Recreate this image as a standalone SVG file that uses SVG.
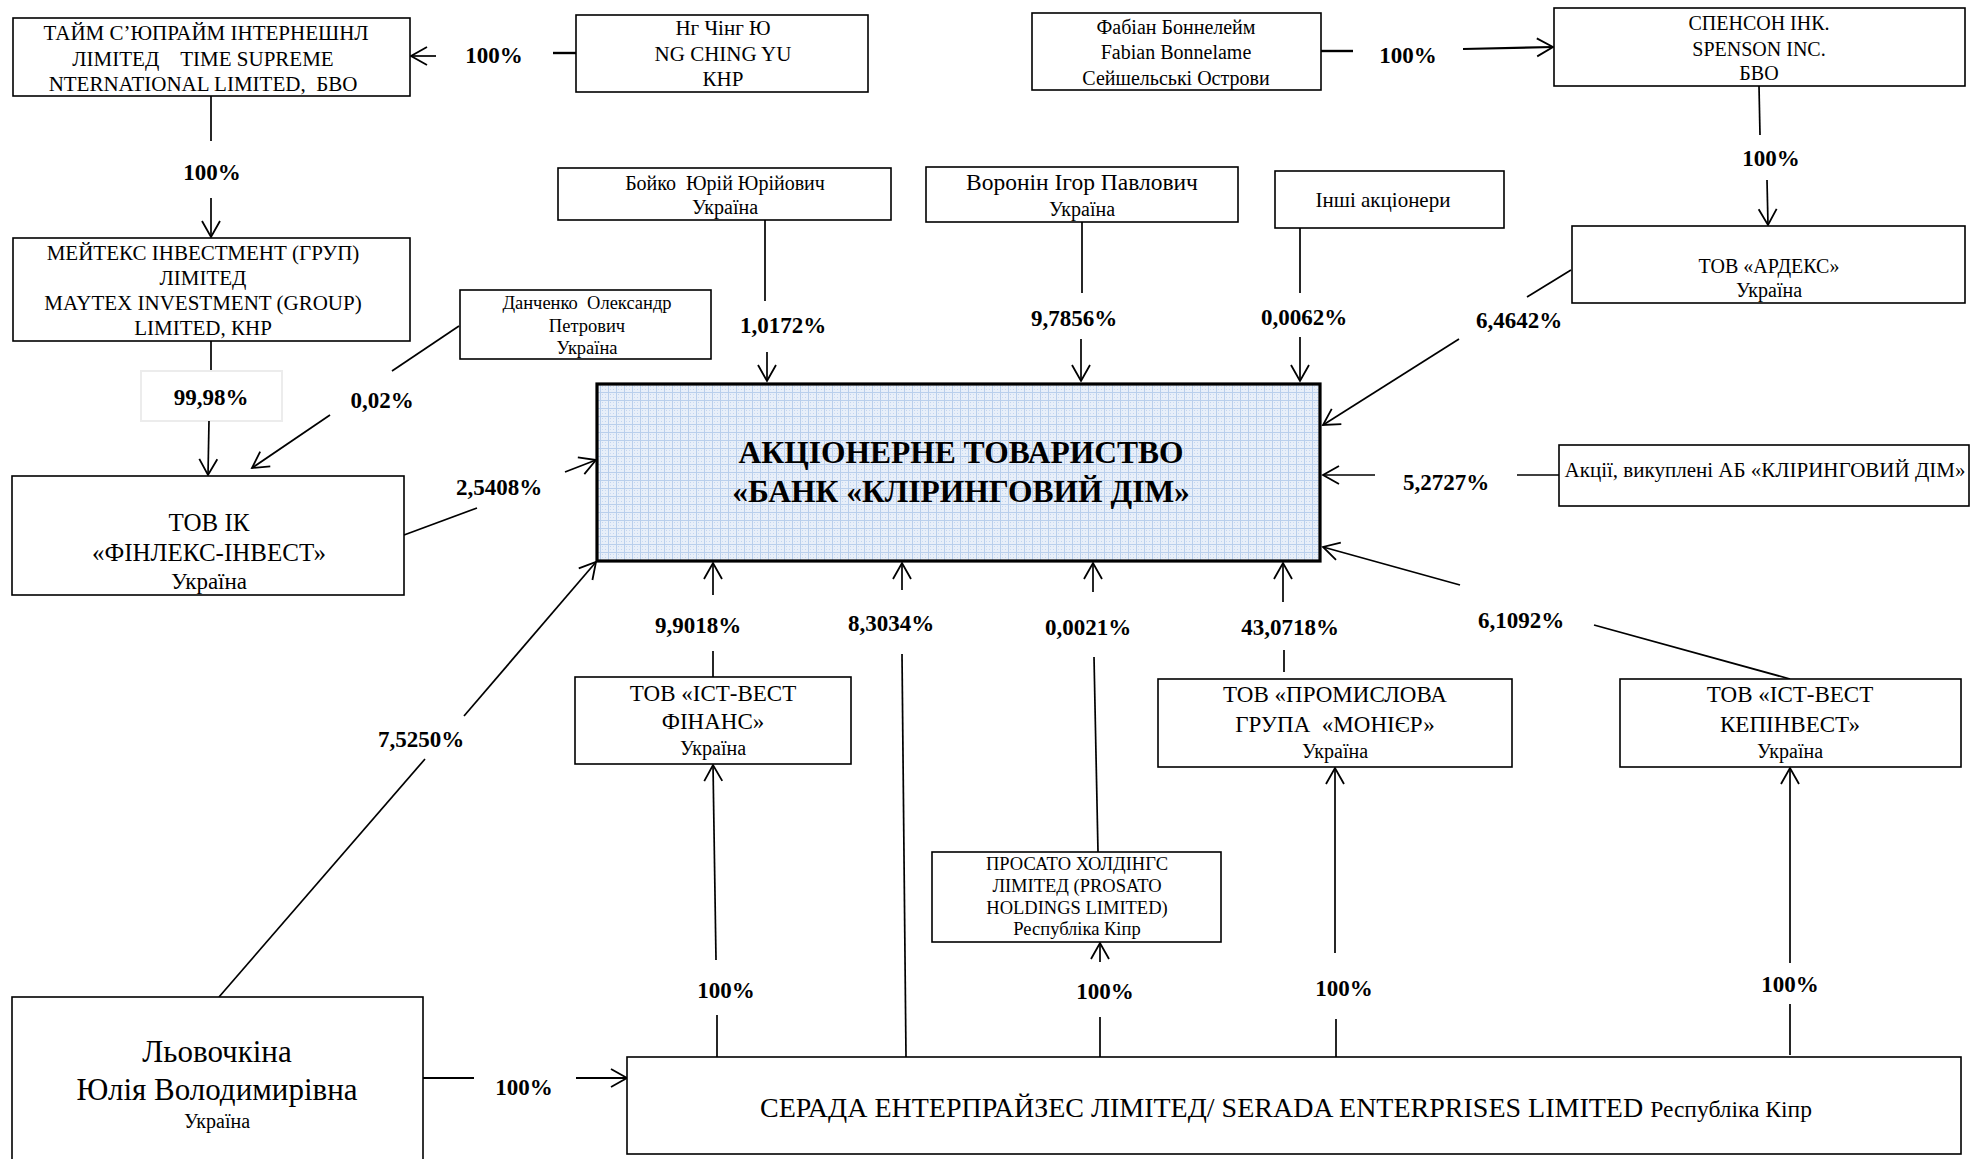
<svg xmlns="http://www.w3.org/2000/svg" width="1980" height="1159" viewBox="0 0 1980 1159">
<style>
.box{fill:#fff;stroke:#000;stroke-width:1.6}
.bank{fill:url(#grid);stroke:#000;stroke-width:3.2}
.t{font-family:"Liberation Serif","Times New Roman",serif;font-size:21px;text-anchor:middle;fill:#000}
.s18{font-size:18.5px}
.s20{font-size:20px}
.s23{font-size:23px}
.s25{font-size:25px}
.s31{font-size:31px}
.b{font-weight:bold}
.p{font-family:"Liberation Serif","Times New Roman",serif;font-size:23px;font-weight:bold;text-anchor:middle;fill:#000}
.c{stroke:#000;stroke-width:1.7;fill:none}
.a{marker-end:url(#arr)}
</style>
<defs>
<marker id="arr" markerUnits="userSpaceOnUse" markerWidth="24" markerHeight="24" refX="18" refY="10" orient="auto" viewBox="0 0 24 20">
<path d="M2,1 L18,10 L2,19" fill="none" stroke="#000" stroke-width="1.8"/>
</marker>
<pattern id="grid" width="8" height="8" patternUnits="userSpaceOnUse">
<rect width="8" height="8" fill="#e8eff9"/>
<path d="M0,0.5H8M0.5,0V8" stroke="#b9cfec" stroke-width="1"/>
<rect x="2" y="2" width="1" height="1" fill="#c3d5ef"/>
<rect x="5" y="5" width="1" height="1" fill="#c3d5ef"/>
<rect x="2" y="5" width="1" height="1" fill="#cddcf2"/>
<rect x="5" y="2" width="1" height="1" fill="#cddcf2"/>
</pattern>
</defs>
<rect width="1980" height="1159" fill="#fff"/>

<g id="connectors">
<line class="c" x1="576" y1="53" x2="553" y2="53" style="stroke-width:2.4"/>
<text class="p" x="494" y="63">100%</text>
<line class="c a" x1="436" y1="56" x2="411" y2="56"/>
<line class="c" x1="211" y1="96" x2="211" y2="141"/>
<text class="p" x="212" y="180">100%</text>
<line class="c a" x1="211" y1="198" x2="211" y2="237"/>
<line class="c" x1="1321" y1="51" x2="1353" y2="51" style="stroke-width:2.4"/>
<text class="p" x="1408" y="63">100%</text>
<line class="c a" x1="1463" y1="49" x2="1553" y2="47" style="stroke-width:2.2"/>
<line class="c" x1="1759" y1="86" x2="1760" y2="135"/>
<text class="p" x="1771" y="166">100%</text>
<line class="c a" x1="1767" y1="180" x2="1768" y2="225"/>
<line class="c" x1="765" y1="220" x2="765" y2="301"/>
<text class="p" x="783" y="333">1,0172%</text>
<line class="c a" x1="767" y1="352" x2="767" y2="381"/>
<line class="c" x1="1082" y1="222" x2="1082" y2="293"/>
<text class="p" x="1074" y="326">9,7856%</text>
<line class="c a" x1="1081" y1="339" x2="1081" y2="381"/>
<line class="c" x1="1300" y1="228" x2="1300" y2="293"/>
<text class="p" x="1304" y="325">0,0062%</text>
<line class="c a" x1="1300" y1="337" x2="1300" y2="381"/>
<line class="c" x1="1571" y1="270" x2="1527" y2="297"/>
<text class="p" x="1519" y="328">6,4642%</text>
<line class="c a" x1="1459" y1="339" x2="1323" y2="425"/>
<line class="c" x1="1559" y1="475" x2="1517" y2="475"/>
<text class="p" x="1446" y="490">5,2727%</text>
<line class="c a" x1="1375" y1="475" x2="1323" y2="475"/>
<line class="c" x1="1790" y1="679" x2="1594" y2="625"/>
<text class="p" x="1521" y="628">6,1092%</text>
<line class="c a" x1="1460" y1="585" x2="1323" y2="547"/>
<line class="c" x1="1284" y1="672" x2="1284" y2="650"/>
<text class="p" x="1290" y="635">43,0718%</text>
<line class="c a" x1="1283" y1="602" x2="1283" y2="563"/>
<line class="c" x1="1098" y1="852" x2="1094" y2="657"/>
<text class="p" x="1088" y="635">0,0021%</text>
<line class="c a" x1="1093" y1="592" x2="1093" y2="563"/>
<line class="c" x1="906" y1="1057" x2="902" y2="654"/>
<text class="p" x="891" y="631">8,3034%</text>
<line class="c a" x1="902" y1="590" x2="902" y2="563"/>
<line class="c" x1="713" y1="677" x2="713" y2="651"/>
<text class="p" x="698" y="633">9,9018%</text>
<line class="c a" x1="713" y1="595" x2="713" y2="563"/>
<line class="c" x1="219" y1="997" x2="425" y2="759"/>
<text class="p" x="421" y="747">7,5250%</text>
<line class="c a" x1="464" y1="716" x2="596" y2="562"/>
<line class="c" x1="423" y1="1078" x2="474" y2="1078" style="stroke-width:2.2"/>
<text class="p" x="524" y="1095">100%</text>
<line class="c a" x1="576" y1="1078" x2="627" y2="1078" style="stroke-width:2.2"/>
<line class="c" x1="717" y1="1057" x2="717" y2="1015"/>
<text class="p" x="726" y="998">100%</text>
<line class="c a" x1="716" y1="960" x2="713" y2="765"/>
<line class="c" x1="1100" y1="1057" x2="1100" y2="1017"/>
<text class="p" x="1105" y="999">100%</text>
<line class="c a" x1="1100" y1="962" x2="1100" y2="943"/>
<line class="c" x1="1336" y1="1057" x2="1336" y2="1019"/>
<text class="p" x="1344" y="996">100%</text>
<line class="c a" x1="1335" y1="953" x2="1335" y2="768"/>
<line class="c" x1="1790" y1="1055" x2="1790" y2="1004"/>
<text class="p" x="1790" y="992">100%</text>
<line class="c a" x1="1790" y1="963" x2="1790" y2="768"/>
<line class="c" x1="211" y1="341" x2="211" y2="371"/>
<rect x="141" y="371" width="141" height="50" fill="#fff" stroke="#ececec" stroke-width="2"/>
<text class="p" x="211" y="405">99,98%</text>
<line class="c a" x1="209" y1="421" x2="208" y2="475"/>
<line class="c" x1="459" y1="326" x2="392" y2="371"/>
<text class="p" x="382" y="408">0,02%</text>
<line class="c a" x1="330" y1="415" x2="252" y2="468"/>
<line class="c" x1="404" y1="535" x2="477" y2="508"/>
<text class="p" x="499" y="495">2,5408%</text>
<line class="c a" x1="565" y1="472" x2="596" y2="460"/>
</g>

<g id="time-supreme">
<rect class="box" x="13" y="18" width="397" height="78"/>
<text class="t" x="206" y="40" xml:space="preserve">ТАЙМ С’ЮПРАЙМ ІНТЕРНЕШНЛ</text>
<text class="t" x="203" y="66" xml:space="preserve">ЛІМІТЕД    TIME SUPREME</text>
<text class="t" x="203" y="91" xml:space="preserve">NTERNATIONAL LIMITED,  БВО</text>
</g>

<g id="ng-ching-yu">
<rect class="box" x="576" y="15" width="292" height="77"/>
<text class="t" x="723" y="35">Нг Чінг Ю</text>
<text class="t" x="723" y="61">NG CHING YU</text>
<text class="t" x="723" y="86">КНР</text>
</g>

<g id="fabian">
<rect class="box" x="1032" y="13" width="289" height="77"/>
<text class="t s20" x="1176" y="34">Фабіан Боннелейм</text>
<text class="t s20" x="1176" y="59">Fabian Bonnelame</text>
<text class="t s20" x="1176" y="85">Сейшельські Острови</text>
</g>

<g id="spenson">
<rect class="box" x="1554" y="8" width="411" height="78"/>
<text class="t s20" x="1759" y="30">СПЕНСОН ІНК.</text>
<text class="t s20" x="1759" y="56">SPENSON INC.</text>
<text class="t s20" x="1759" y="80">БВО</text>
</g>

<g id="boyko">
<rect class="box" x="558" y="168" width="333" height="52"/>
<text class="t s20" x="725" y="190" xml:space="preserve">Бойко  Юрій Юрійович</text>
<text class="t s20" x="725" y="214">Україна</text>
</g>

<g id="voronin">
<rect class="box" x="926" y="167" width="312" height="55"/>
<text class="t" x="1082" y="190" style="font-size:23.5px">Воронін Ігор Павлович</text>
<text class="t s20" x="1082" y="216">Україна</text>
</g>

<g id="others">
<rect class="box" x="1275" y="171" width="229" height="57"/>
<text class="t" x="1383" y="207">Інші акціонери</text>
</g>

<g id="ardex">
<rect class="box" x="1572" y="226" width="393" height="77"/>
<text class="t s20" x="1769" y="273">ТОВ «АРДЕКС»</text>
<text class="t s20" x="1769" y="297">Україна</text>
</g>

<g id="maytex">
<rect class="box" x="13" y="238" width="397" height="103"/>
<text class="t" x="203" y="260">МЕЙТЕКС ІНВЕСТМЕНТ (ГРУП)</text>
<text class="t" x="203" y="285">ЛІМІТЕД</text>
<text class="t" x="203" y="310">MAYTEX INVESTMENT (GROUP)</text>
<text class="t" x="203" y="335">LIMITED, КНР</text>
</g>

<g id="danchenko">
<rect class="box" x="460" y="290" width="251" height="69"/>
<text class="t s18" x="587" y="309" xml:space="preserve">Данченко  Олександр</text>
<text class="t s18" x="587" y="332">Петрович</text>
<text class="t s18" x="587" y="354">Україна</text>
</g>

<g id="finlex">
<rect class="box" x="12" y="476" width="392" height="119"/>
<text class="t s25" x="209" y="531">ТОВ ІК</text>
<text class="t s25" x="209" y="561">«ФІНЛЕКС-ІНВЕСТ»</text>
<text class="t s23" x="209" y="589">Україна</text>
</g>

<g id="bank">
<rect class="bank" x="597" y="384" width="723" height="177"/>
<text class="t b" x="961" y="463" style="font-size:31.5px">АКЦІОНЕРНЕ ТОВАРИСТВО</text>
<text class="t b" x="961" y="502" style="font-size:31.5px">«БАНК «КЛІРИНГОВИЙ ДІМ»</text>
</g>

<g id="akcii">
<rect class="box" x="1559" y="445" width="410" height="61"/>
<text class="t" x="1765" y="477">Акції, викуплені АБ «КЛІРИНГОВИЙ ДІМ»</text>
</g>

<g id="ist-west-finans">
<rect class="box" x="575" y="677" width="276" height="87"/>
<text class="t s23" x="713" y="701">ТОВ «ІСТ-ВЕСТ</text>
<text class="t s23" x="713" y="729">ФІНАНС»</text>
<text class="t s20" x="713" y="755">Україна</text>
</g>

<g id="monier">
<rect class="box" x="1158" y="679" width="354" height="88"/>
<text class="t s23" x="1335" y="702">ТОВ «ПРОМИСЛОВА</text>
<text class="t s23" x="1335" y="732" xml:space="preserve">ГРУПА  «МОНІЄР»</text>
<text class="t s20" x="1335" y="758">Україна</text>
</g>

<g id="ist-west-kepinvest">
<rect class="box" x="1620" y="679" width="341" height="88"/>
<text class="t s23" x="1790" y="702">ТОВ «ІСТ-ВЕСТ</text>
<text class="t s23" x="1790" y="732">КЕПІНВЕСТ»</text>
<text class="t s20" x="1790" y="758">Україна</text>
</g>

<g id="prosato">
<rect class="box" x="932" y="852" width="289" height="90"/>
<text class="t s18" x="1077" y="870">ПРОСАТО ХОЛДІНГС</text>
<text class="t s18" x="1077" y="892">ЛІМІТЕД (PROSATO</text>
<text class="t s18" x="1077" y="914">HOLDINGS LIMITED)</text>
<text class="t s18" x="1077" y="935">Республіка Кіпр</text>
</g>

<g id="lyovochkina">
<rect class="box" x="12" y="997" width="411" height="175"/>
<text class="t s31" x="217" y="1062">Льовочкіна</text>
<text class="t s31" x="217" y="1100">Юлія Володимирівна</text>
<text class="t s20" x="217" y="1128">Україна</text>
</g>

<g id="serada">
<rect class="box" x="627" y="1057" width="1334" height="97"/>
<text class="t" x="1286" y="1117" style="font-size:28px">СЕРАДА ЕНТЕРПРАЙЗЕС ЛІМІТЕД/ SERADA ENTERPRISES LIMITED <tspan style="font-size:23.5px">Республіка Кіпр</tspan></text>
</g>
</svg>
